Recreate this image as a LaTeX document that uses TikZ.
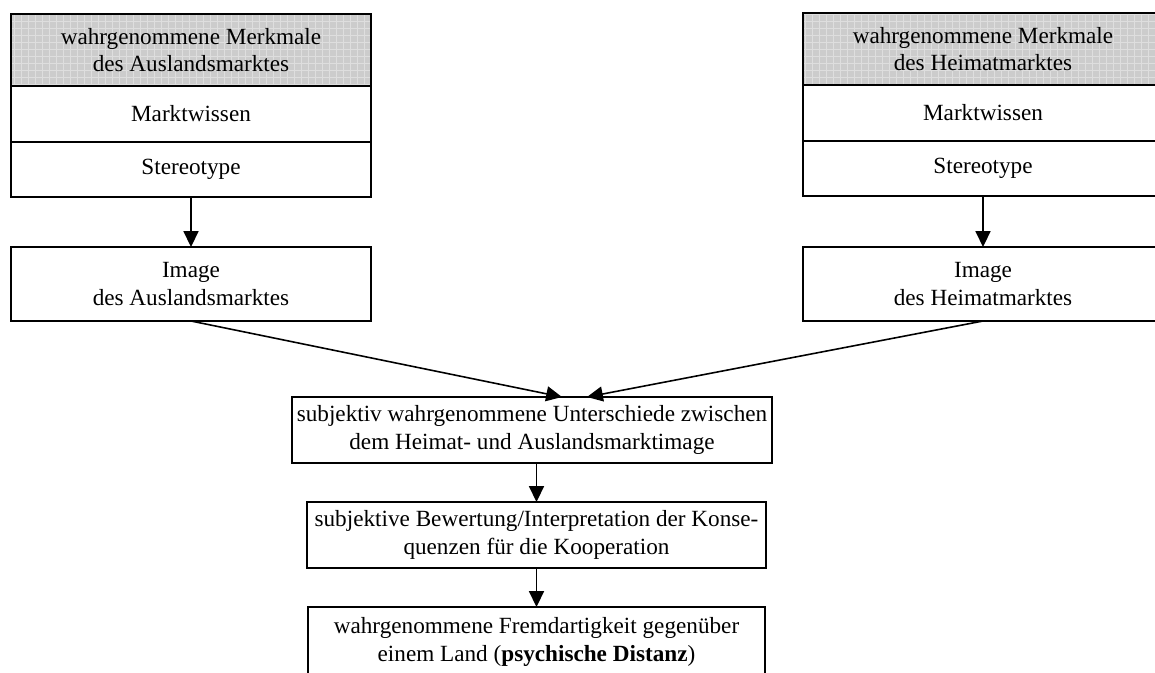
\documentclass[tikz,border=0pt]{standalone}
\usepackage{fontspec}
\setmainfont{Liberation Serif}
\usepackage{tikz}
\usetikzlibrary{arrows.meta,positioning,calc,backgrounds}

\begin{document}
\begin{tikzpicture}[
  box/.style={rectangle, draw, line width=0.9pt, outer sep=0pt, inner sep=2pt,
    align=center, font=\fontsize{13.2}{15.6}\selectfont},
  colbox/.style={box, minimum width=7.2cm},
  head/.style={colbox, minimum height=1.44cm},
  arr/.style={line width=0.9pt, -{Triangle[length=9pt,width=8.5pt]}}
]
\useasboundingbox (0,0) rectangle (23.1,-13.44);

% Left column (Auslandsmarkt)
\node[head] (lhead) at (3.82,-1.00) {wahrgenommene Merkmale\\des Auslandsmarktes};
\node[colbox, minimum height=1.12cm, below=0pt of lhead] (lwiss) {Marktwissen};
\node[colbox, minimum height=1.10cm, below=0pt of lwiss] (lster) {Stereotype};
\node[colbox, minimum height=1.48cm] (limg) at (3.82,-5.68) {Image\\des Auslandsmarktes};

% Right column (Heimatmarkt)
\node[head] (rhead) at (19.66,-0.98) {wahrgenommene Merkmale\\des Heimatmarktes};
\node[colbox, minimum height=1.12cm, below=0pt of rhead] (rwiss) {Marktwissen};
\node[colbox, minimum height=1.10cm, below=0pt of rwiss] (rster) {Stereotype};
\node[colbox, minimum height=1.48cm] (rimg) at (19.66,-5.68) {Image\\des Heimatmarktes};

% Shaded headers
\begin{scope}[on background layer]
  \fill[black!20] (lhead.south west) rectangle (lhead.north east);
  \fill[black!20] (rhead.south west) rectangle (rhead.north east);
  \draw[black!13, line width=0.3pt, step=0.14] (lhead.south west) grid (lhead.north east);
  \draw[black!13, line width=0.3pt, step=0.14] (rhead.south west) grid (rhead.north east);
\end{scope}

% Middle chain
\node[box, minimum width=9.6cm, minimum height=1.32cm] (diff) at (10.64,-8.60)
  {subjektiv wahrgenommene Unterschiede zwischen\\dem Heimat- und Auslandsmarktimage};
\node[box, minimum width=9.18cm, minimum height=1.32cm] (bew) at (10.73,-10.70)
  {subjektive Bewertung/Interpretation der Konse-\\quenzen für die Kooperation};
\node[box, minimum width=9.14cm, minimum height=1.40cm] (dist) at (10.73,-12.84)
  {wahrgenommene Fremdartigkeit gegenüber\\einem Land (\textbf{psychische Distanz})};

\coordinate (inL) at ($(diff.north)+(0.6,0)$);
\coordinate (inR) at ($(diff.north)+(1.1,0)$);

% Arrows
\draw[arr] (lster) -- (limg);
\draw[arr] (rster) -- (rimg);
\draw[arr] (limg.south) -- (inL);
\draw[arr] (rimg.south) -- (inR);
\draw[arr] (bew.north |- diff.south) -- (bew.north);
\draw[arr] (bew.south) -- (dist.north);
\end{tikzpicture}
\end{document}
